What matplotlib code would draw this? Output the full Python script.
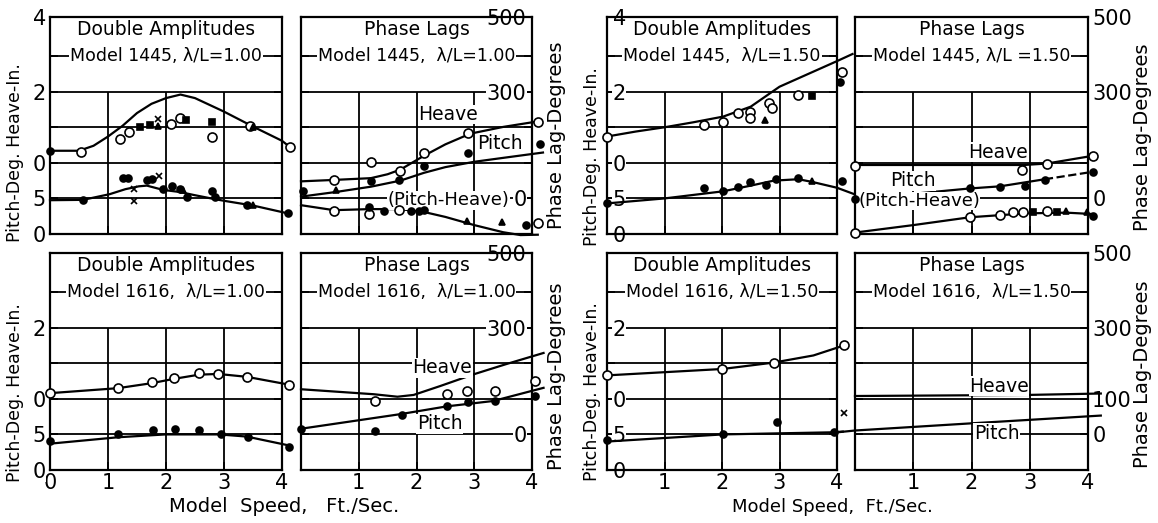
import matplotlib.pyplot as plt

W, H = 1158, 523

speed_ticks = [0, 1, 2, 3, 4]

# ---- p1: Model 1445, lambda/L = 1.00, double amplitudes (pitch deg / heave in.)
p1_heave_x = [0, 0.25, 0.5, 0.75, 1.0, 1.25, 1.5, 1.75, 2.0, 2.25, 2.5, 3.0, 3.5, 4.0, 4.14]
p1_heave_y = [1.17, 1.17, 1.17, 1.24, 1.37, 1.52, 1.70, 1.83, 1.91, 1.96, 1.91, 1.72, 1.51, 1.31, 1.22]
p1_pitch_x = [0, 0.57, 1.03, 1.3, 1.53, 1.67, 1.95, 2.24, 2.47, 2.84, 3.05, 3.5, 4.1]
p1_pitch_y = [0.475, 0.48, 0.56, 0.63, 0.67, 0.68, 0.62, 0.59, 0.55, 0.49, 0.46, 0.40, 0.29]
p1_open_x = [0.53, 1.2, 1.36, 2.09, 2.24, 2.8, 3.45, 4.14]
p1_open_y = [1.15, 1.34, 1.44, 1.55, 1.63, 1.37, 1.52, 1.22]
p1_dot_x = [0, 0.57, 1.26, 1.34, 1.67, 1.76, 1.95, 2.1, 2.24, 2.36, 2.8, 2.84, 3.4, 4.1]
p1_dot_y = [1.17, 0.48, 0.79, 0.79, 0.76, 0.77, 0.63, 0.68, 0.63, 0.52, 0.61, 0.52, 0.41, 0.29]
p1_sq_x = [1.55, 1.72, 2.35, 2.8]
p1_sq_y = [1.50, 1.53, 1.60, 1.57]
p1_tri_x = [1.86, 3.5, 2.3, 3.5]
p1_tri_y = [1.52, 1.51, 0.62, 0.41]
p1_cross_x = [1.86, 1.45, 1.45, 1.88]
p1_cross_y = [1.62, 0.63, 0.46, 0.81]

# ---- p2: Model 1445, lambda/L = 1.00, phase lags (degrees)
p2_heave_x = [0, 0.57, 1.21, 1.5, 1.72, 2.13, 2.5, 2.93, 3.5, 4.08]
p2_heave_y = [48, 52, 57, 68, 81, 120, 152, 182, 201, 216]
p2_pitch_x = [0, 0.6, 1.21, 1.72, 2.13, 2.5, 3.0, 3.5, 4.19]
p2_pitch_y = [5, 18, 33, 50, 72, 88, 103, 114, 129]
p2_diff_x = [0, 0.57, 1.2, 1.7, 2.1, 2.5, 3.0, 3.5, 3.8, 4.1]
p2_diff_y = [-19, -33, -30, -30, -37, -52, -75, -95, -103, -102]
p2_open_x = [0.57, 1.21, 1.72, 2.13, 2.9, 4.1, 0.57, 1.18, 1.69, 4.1]
p2_open_y = [52, 101, 76, 127, 185, 216, -35, -43, -32, -70]
p2_dot_x = [0.03, 1.21, 1.69, 2.13, 2.9, 4.14, 1.18, 1.43, 1.9, 2.05, 2.13, 3.9]
p2_dot_y = [22, 48, 52, 91, 129, 153, -24, -35, -35, -35, -33, -76]
p2_tri_x = [0.6, 2.87, 3.48]
p2_tri_y = [24, -63, -67]

# ---- p3: Model 1445, lambda/L = 1.50, double amplitudes
p3_heave_x = [0, 0.5, 1.0, 1.5, 2.02, 2.5, 3.0, 3.5, 4.0, 4.27]
p3_heave_y = [1.37, 1.44, 1.50, 1.57, 1.65, 1.79, 2.07, 2.25, 2.43, 2.53]
p3_pitch_x = [0, 1.0, 2.02, 2.5, 2.9, 3.33, 3.58, 4.0, 4.3]
p3_pitch_y = [0.43, 0.50, 0.60, 0.68, 0.75, 0.77, 0.73, 0.65, 0.56]
p3_open_x = [0, 1.69, 2.02, 2.28, 2.48, 2.48, 2.81, 2.87, 3.33, 4.08]
p3_open_y = [1.37, 1.53, 1.58, 1.70, 1.72, 1.63, 1.84, 1.77, 1.96, 2.27]
p3_dot_x = [0, 1.69, 2.02, 2.28, 2.48, 2.77, 2.94, 3.33, 4.08, 4.05]
p3_dot_y = [0.43, 0.64, 0.60, 0.66, 0.73, 0.69, 0.78, 0.79, 0.75, 2.13]
p3_sq_x = [3.56]
p3_sq_y = [1.94]
p3_tri_x = [2.75, 3.56]
p3_tri_y = [1.60, 0.75]

# ---- p4: Model 1445, lambda/L = 1.50, phase lags
p4_heave_x = [0, 1.0, 2.0, 2.9, 3.29, 4.09]
p4_heave_y = [94, 94, 94, 94, 98, 120]
p4_pitch_x = [0, 1.0, 1.97, 2.49, 3.26]
p4_pitch_y = [-2, 13, 28, 34, 54]
p4_pitch_dash_x = [3.26, 4.09]
p4_pitch_dash_y = [54, 75]
p4_diff_x = [0, 1.0, 1.97, 2.49, 2.95, 3.63, 4.09]
p4_diff_y = [-96, -75, -53, -47, -42, -40, -44]
p4_open_x = [0, 2.86, 3.29, 4.09, 0, 1.97, 2.49, 2.72, 2.89, 3.29]
p4_open_y = [92, 80, 96, 120, -96, -53, -47, -39, -37, -35]
p4_dot_x = [0, 1.97, 2.49, 2.92, 3.26, 4.09, 4.09]
p4_dot_y = [-2, 28, 33, 34, 52, 75, -48]
p4_sq_x = [3.06, 3.46]
p4_sq_y = [-37, -37]
p4_tri_x = [3.63, 3.98]
p4_tri_y = [-36, -39]

# ---- p5: Model 1616, lambda/L = 1.00, double amplitudes
p5_heave_x = [0, 1.17, 1.75, 2.13, 2.57, 2.9, 3.39, 4.12]
p5_heave_y = [1.08, 1.15, 1.22, 1.28, 1.34, 1.35, 1.31, 1.20]
p5_pitch_x = [0, 1.17, 1.99, 2.92, 3.39, 4.15]
p5_pitch_y = [0.37, 0.46, 0.50, 0.50, 0.47, 0.34]
p5_open_x = [0, 1.17, 1.75, 2.13, 2.57, 2.9, 3.39, 4.12]
p5_open_y = [1.08, 1.15, 1.23, 1.29, 1.37, 1.35, 1.31, 1.20]
p5_dot_x = [0, 1.17, 1.78, 2.16, 2.57, 2.95, 3.42, 4.12]
p5_dot_y = [0.41, 0.51, 0.56, 0.57, 0.56, 0.50, 0.47, 0.32]

# ---- p6: Model 1616, lambda/L = 1.00, phase lags
p6_heave_x = [0, 1.26, 1.67, 1.95, 2.41, 2.99, 3.56, 4.2]
p6_heave_y = [127, 113, 106, 111, 136, 169, 198, 229]
p6_pitch_x = [0, 1.72, 2.53, 3.33, 4.2]
p6_pitch_y = [16, 57, 79, 94, 131]
p6_open_x = [1.29, 2.53, 2.87, 3.36, 4.05]
p6_open_y = [94, 113, 122, 122, 150]
p6_dot_x = [0, 1.29, 1.75, 2.53, 2.9, 3.36, 4.05]
p6_dot_y = [16, 11, 56, 79, 90, 94, 108]

# ---- p7: Model 1616, lambda/L = 1.50, double amplitudes
p7_heave_x = [0, 2.01, 2.9, 3.59, 4.12]
p7_heave_y = [1.33, 1.42, 1.51, 1.61, 1.75]
p7_pitch_x = [0, 2.01, 3.94, 4.1]
p7_pitch_y = [0.40, 0.50, 0.53, 0.54]
p7_open_x = [0, 2.0, 2.9, 4.13]
p7_open_y = [1.33, 1.42, 1.51, 1.75]
p7_dot_x = [0, 2.01, 2.96, 3.94]
p7_dot_y = [0.42, 0.50, 0.67, 0.53]
p7_cross_x = [4.12]
p7_cross_y = [0.80]

# ---- p8: Model 1616, lambda/L = 1.50, phase lags
p8_heave_x = [0, 2.96, 4.22]
p8_heave_y = [108, 111, 115]
p8_pitch_x = [-0.3, 0, 1.98, 4.22]
p8_pitch_y = [6, 11, 31, 53]

fig = plt.figure(figsize=(W / 100, H / 100), dpi=100)


def px_axes(x0, x1, ytop, ybot):
    return fig.add_axes([x0 / W, 1 - ybot / H, (x1 - x0) / W, (ybot - ytop) / H])


def curve(ax, x, y, ls='-'):
    ax.plot(x, y, color='black', lw=1.6, ls=ls, zorder=3, clip_on=False)


def marks(ax, x, y, kind):
    style = {'open': dict(marker='o', ms=6.5, mfc='white'),
             'dot': dict(marker='o', ms=5, mfc='black'),
             'sq': dict(marker='s', ms=4.5, mfc='black'),
             'tri': dict(marker='^', ms=5, mfc='black'),
             'cross': dict(marker='x', ms=4.5)}[kind]
    ax.plot(x, y, ls='none', color='black', mec='black', mew=1.2,
            zorder=5, clip_on=False, **style)


def tag(ax, x, y, s, size=13.5):
    ax.text(x, y, s, ha='center', va='center', fontsize=size, zorder=4,
            bbox=dict(facecolor='white', edgecolor='none', pad=0.3))


def frame(ax, kind, title, model, top_row, inside, first=False, extra100=False):
    ax.set_xlim(0, 4)
    if kind == 'amp':
        lo, hi, gtop = 0, 3.05, 2
        hl = [0.5, 1, 1.5, 2]
        tline, t1 = 2.5, 2.87
        ticks = [0, 0.5, 1, 2] + ([3.05] if top_row else [])
        labs = ['0', '5', '0', '2'] + (['4'] if top_row else [])
        minor = [1.5, 2.5]
    else:
        lo, hi, gtop = -100, 510, 300
        hl = [0, 100, 200, 300]
        tline, t1 = 400, 474
        ticks = [0, 100, 300, 510] if extra100 else [0, 300, 510]
        labs = ['0', '100', '300', '500'] if extra100 else ['0', '300', '500']
        minor = [100, 200, 400]
    ax.set_ylim(lo, hi)
    ax.hlines(hl, 0, 4, color='black', lw=1.3, zorder=1)
    ax.hlines([tline], 0, 4, color='black', lw=1.3, zorder=1)
    ax.vlines([1, 2, 3], lo, gtop, color='black', lw=1.3, zorder=1)
    for s in ax.spines.values():
        s.set_linewidth(1.6)
    ax.text(2, t1, title, ha='center', va='center', fontsize=13.5, zorder=4)
    ax.text(2, tline, model, ha='center', va='center', fontsize=12.5, zorder=4,
            bbox=dict(facecolor='white', edgecolor='none', pad=0.6))

    ax.set_xticks(speed_ticks)
    ax.set_xticklabels(['0' if first else ''] + ['1', '2', '3', '4'])
    ax.set_yticks(ticks)
    ax.set_yticklabels(labs)
    ax.set_yticks(minor, minor=True)
    ax.tick_params(which='both', direction='in', length=6, width=1.3,
                   left=True, right=True, top=False, bottom=True,
                   labelsize=15, labelbottom=not top_row)
    ax.tick_params(axis='x', pad=2)
    if kind == 'amp':
        ax.tick_params(axis='y', labelleft=True, labelright=False,
                       pad=-4 if inside else 3)
        if inside:
            for t in ax.get_yticklabels():
                t.set_ha('left')
    else:
        ax.tick_params(axis='y', labelleft=False, labelright=True,
                       pad=-4 if inside else 3)
        if inside:
            for t in ax.get_yticklabels():
                t.set_ha('right')
    for t in ax.get_yticklabels():
        t.set_bbox(dict(facecolor='white', edgecolor='none', pad=0.2))


top = (17, 234)
bot = (253, 470)
cols = [(50, 282), (301, 532), (607, 837), (855, 1088)]

# ---------------- top row: model 1445
ax = px_axes(cols[0][0], cols[0][1], *top)
frame(ax, 'amp', 'Double Amplitudes', 'Model 1445, λ/L=1.00', True, False)
curve(ax, p1_heave_x, p1_heave_y)
curve(ax, p1_pitch_x, p1_pitch_y)
marks(ax, p1_open_x, p1_open_y, 'open')
marks(ax, p1_dot_x, p1_dot_y, 'dot')
marks(ax, p1_sq_x, p1_sq_y, 'sq')
marks(ax, p1_tri_x, p1_tri_y, 'tri')
marks(ax, p1_cross_x, p1_cross_y, 'cross')

ax = px_axes(cols[1][0], cols[1][1], *top)
frame(ax, 'phase', 'Phase Lags', 'Model 1445,  λ/L=1.00', True, True)
curve(ax, p2_heave_x, p2_heave_y)
curve(ax, p2_pitch_x, p2_pitch_y)
curve(ax, p2_diff_x, p2_diff_y)
marks(ax, p2_open_x, p2_open_y, 'open')
marks(ax, p2_dot_x, p2_dot_y, 'dot')
marks(ax, p2_tri_x, p2_tri_y, 'tri')
tag(ax, 2.55, 236, 'Heave')
tag(ax, 3.45, 153, 'Pitch')
tag(ax, 2.55, -5, '(Pitch-Heave)', size=13)

ax = px_axes(cols[2][0], cols[2][1], *top)
frame(ax, 'amp', 'Double Amplitudes', 'Model 1445,  λ/L=1.50', True, True)
curve(ax, p3_heave_x, p3_heave_y)
curve(ax, p3_pitch_x, p3_pitch_y)
marks(ax, p3_open_x, p3_open_y, 'open')
marks(ax, p3_dot_x, p3_dot_y, 'dot')
marks(ax, p3_sq_x, p3_sq_y, 'sq')
marks(ax, p3_tri_x, p3_tri_y, 'tri')

ax = px_axes(cols[3][0], cols[3][1], *top)
frame(ax, 'phase', 'Phase Lags', 'Model 1445, λ/L =1.50', True, False)
curve(ax, p4_heave_x, p4_heave_y)
curve(ax, p4_pitch_x, p4_pitch_y)
curve(ax, p4_pitch_dash_x, p4_pitch_dash_y, ls='--')
curve(ax, p4_diff_x, p4_diff_y)
marks(ax, p4_open_x, p4_open_y, 'open')
marks(ax, p4_dot_x, p4_dot_y, 'dot')
marks(ax, p4_sq_x, p4_sq_y, 'sq')
marks(ax, p4_tri_x, p4_tri_y, 'tri')
tag(ax, 2.45, 130, 'Heave')
tag(ax, 1.0, 49, 'Pitch')
tag(ax, 1.1, -7, '(Pitch-Heave)', size=13)

# ---------------- bottom row: model 1616
ax = px_axes(cols[0][0], cols[0][1], *bot)
frame(ax, 'amp', 'Double Amplitudes', 'Model 1616,  λ/L=1.00', False, False, first=True)
curve(ax, p5_heave_x, p5_heave_y)
curve(ax, p5_pitch_x, p5_pitch_y)
marks(ax, p5_open_x, p5_open_y, 'open')
marks(ax, p5_dot_x, p5_dot_y, 'dot')

ax = px_axes(cols[1][0], cols[1][1], *bot)
frame(ax, 'phase', 'Phase Lags', 'Model 1616,  λ/L=1.00', False, True)
curve(ax, p6_heave_x, p6_heave_y)
curve(ax, p6_pitch_x, p6_pitch_y)
marks(ax, p6_open_x, p6_open_y, 'open')
marks(ax, p6_dot_x, p6_dot_y, 'dot')
tag(ax, 2.45, 187, 'Heave')
tag(ax, 2.4, 30, 'Pitch')

ax = px_axes(cols[2][0], cols[2][1], *bot)
frame(ax, 'amp', 'Double Amplitudes', 'Model 1616, λ/L=1.50', False, True)
curve(ax, p7_heave_x, p7_heave_y)
curve(ax, p7_pitch_x, p7_pitch_y)
marks(ax, p7_open_x, p7_open_y, 'open')
marks(ax, p7_dot_x, p7_dot_y, 'dot')
marks(ax, p7_cross_x, p7_cross_y, 'cross')

ax = px_axes(cols[3][0], cols[3][1], *bot)
frame(ax, 'phase', 'Phase Lags', 'Model 1616,  λ/L=1.50', False, False, extra100=True)
curve(ax, p8_heave_x, p8_heave_y)
curve(ax, p8_pitch_x, p8_pitch_y)
tag(ax, 2.47, 136, 'Heave')
tag(ax, 2.43, 4, 'Pitch')

# axis titles
for x, y in [(15, 153), (15, 393), (592, 157), (592, 392)]:
    fig.text(x / W, 1 - y / H, 'Pitch-Deg. Heave-In.', rotation=90,
             ha='center', va='center', fontsize=12.5)
for x, y in [(557, 135), (557, 376), (1142, 137), (1142, 374)]:
    fig.text(x / W, 1 - y / H, 'Phase Lag-Degrees', rotation=90,
             ha='center', va='center', fontsize=14)
fig.text(284 / W, 1 - 507 / H, 'Model  Speed,   Ft./Sec.', ha='center', va='center', fontsize=14)
fig.text(832 / W, 1 - 507 / H, 'Model Speed,  Ft./Sec.', ha='center', va='center', fontsize=13)

fig.savefig('out.png', dpi=100)
